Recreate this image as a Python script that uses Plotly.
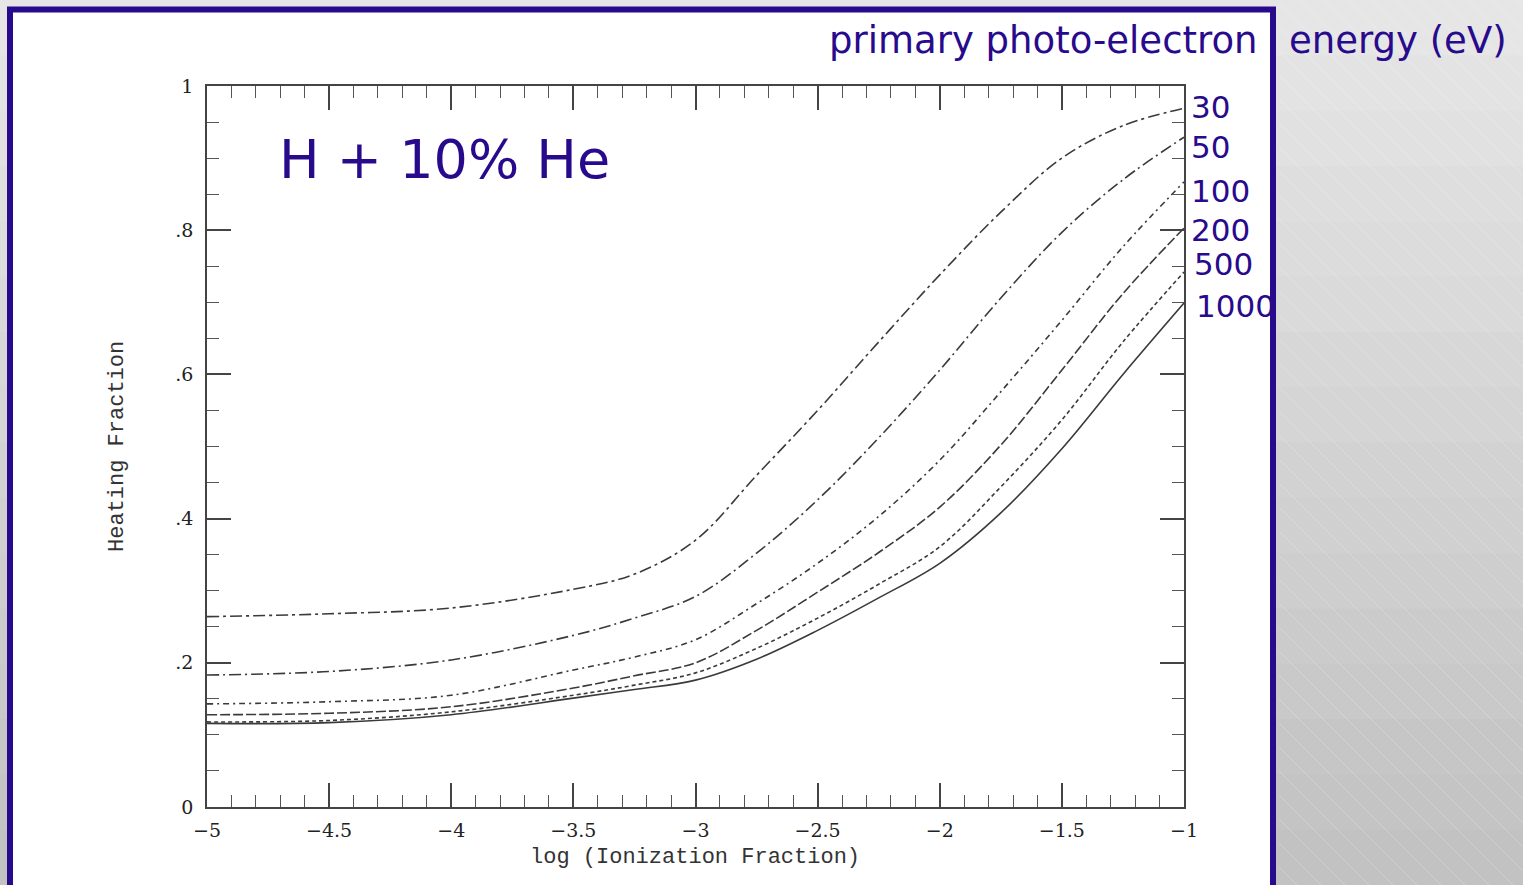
import plotly.graph_objects as go

# ---------------- data ----------------
log_ion = [-5, -4.5, -4, -3.5, -3.25, -3, -2.75, -2.5, -2.25, -2, -1.75, -1.5, -1.25, -1]

heat_30   = [0.264, 0.268, 0.276, 0.302, 0.323, 0.370, 0.460, 0.550, 0.645, 0.738, 0.825, 0.900, 0.945, 0.969]
heat_50   = [0.183, 0.188, 0.204, 0.238, 0.262, 0.292, 0.352, 0.426, 0.512, 0.606, 0.706, 0.797, 0.870, 0.929]
heat_100  = [0.143, 0.146, 0.155, 0.190, 0.208, 0.232, 0.282, 0.338, 0.403, 0.481, 0.576, 0.675, 0.777, 0.867]
heat_200  = [0.128, 0.130, 0.139, 0.165, 0.182, 0.200, 0.245, 0.298, 0.353, 0.416, 0.502, 0.606, 0.712, 0.803]
heat_500  = [0.118, 0.120, 0.132, 0.155, 0.169, 0.186, 0.220, 0.262, 0.309, 0.361, 0.444, 0.537, 0.645, 0.742]
heat_1000 = [0.116, 0.117, 0.128, 0.151, 0.163, 0.176, 0.205, 0.245, 0.290, 0.338, 0.408, 0.497, 0.600, 0.699]

energies = ["30", "50", "100", "200", "500", "1000"]
series = [heat_30, heat_50, heat_100, heat_200, heat_500, heat_1000]
dashes = ["12px,4px,3px,4px", "12px,4px,2px,4px", "6px,4px,2px,4px", "10px,3px", "4px,3px", "solid"]

x_ticks = [-5, -4.5, -4, -3.5, -3, -2.5, -2, -1.5, -1]
x_ticktext = ["\u22125", "\u22124.5", "\u22124", "\u22123.5", "\u22123", "\u22122.5", "\u22122", "\u22121.5", "\u22121"]
y_ticks = [0, 0.2, 0.4, 0.6, 0.8, 1]
y_ticktext = ["0", ".2", ".4", ".6", ".8", "1"]

# ---------------- layout helpers ----------------
W, H = 1523, 885
L, R, T, B = 207, 1184, 86, 807


def px(xp):
    return (xp - L) / (R - L)


def py(yp):
    return (B - yp) / (B - T)


BLUE = "#280a8c"
INK = "#3a3a3a"

fig = go.Figure()
for name, ys, d in zip(energies, series, dashes):
    fig.add_trace(go.Scatter(x=log_ion, y=ys, mode="lines", name=name,
                             line=dict(color=INK, width=1.6, dash=d, shape="spline", smoothing=1.0),
                             showlegend=False))

shapes = []
# background gray bands (gradient approximation)
nb = 16
for i in range(nb):
    g = int(0xe6 - (0xe6 - 0xc2) * i / (nb - 1))
    col = f"#{g:02x}{g:02x}{g:02x}"
    shapes.append(dict(type="rect", xref="paper", yref="paper",
                       x0=px(0), x1=px(W), y0=py(H * i / nb), y1=py(H * (i + 1) / nb + 1),
                       fillcolor=col, line=dict(width=0), layer="below"))
# diagonal subtle lines on the gray right side
for k in range(-40, 30):
    x0p = 1276 + k * 24
    y0p, y1p = 0, H
    x1p = x0p + (y1p - y0p)
    if x1p < 1279:
        continue
    if x0p < 1279:
        y0p = y0p + (1279 - x0p)
        x0p = 1279
    if x1p > W:
        y1p = y1p - (x1p - W)
        x1p = W
    if y1p <= y0p:
        continue
    shapes.append(dict(type="line", xref="paper", yref="paper",
                       x0=px(x0p), y0=py(y0p), x1=px(x1p), y1=py(y1p),
                       line=dict(color="rgba(255,255,255,0.22)", width=1), layer="below"))
# white panel with indigo border
shapes.append(dict(type="rect", xref="paper", yref="paper",
                   x0=px(10), x1=px(1273), y0=py(9.5), y1=py(H + 10),
                   fillcolor="white", line=dict(color=BLUE, width=6), layer="below"))

annotations = [
    dict(text="H + 10% He", x=px(277), y=py(160), xanchor="left", yanchor="middle",
         font=dict(family="DejaVu Sans", size=54, color=BLUE)),
    dict(text="primary photo-electron", x=px(1259), y=py(40), xanchor="right", yanchor="middle",
         font=dict(family="DejaVu Sans", size=37, color=BLUE)),
    dict(text="energy (eV)", x=px(1287), y=py(40), xanchor="left", yanchor="middle",
         font=dict(family="DejaVu Sans", size=37, color=BLUE)),
    dict(text="Heating Fraction", x=px(117), y=py(447), textangle=-90,
         xanchor="center", yanchor="middle",
         font=dict(family="Liberation Mono", size=22, color="#333333")),
    dict(text="log (Ionization Fraction)", x=px(695), y=py(857),
         xanchor="center", yanchor="middle",
         font=dict(family="Liberation Mono", size=22, color="#333333")),
]
label_pos = [(1189, 107), (1189, 147), (1189, 191), (1189, 230), (1192, 264), (1194, 306)]
for name, (lx, ly) in zip(energies, label_pos):
    annotations.append(dict(text=name, x=px(lx), y=py(ly), xanchor="left", yanchor="middle",
                            font=dict(family="DejaVu Sans", size=31, color=BLUE)))
for a in annotations:
    a.update(xref="paper", yref="paper", showarrow=False)

axis_common = dict(showgrid=False, zeroline=False, showline=True, linecolor="#444444",
                   linewidth=1.5, mirror="allticks", ticks="inside", tickcolor="#444444",
                   tickwidth=1.5, ticklen=24,
                   tickfont=dict(family="DejaVu Serif", size=19, color="#222222"))

fig.update_layout(
    width=W, height=H,
    margin=dict(l=L, r=W - R, t=T, b=H - B),
    paper_bgcolor="#d4d4d4",
    plot_bgcolor="rgba(0,0,0,0)",
    shapes=shapes,
    annotations=annotations,
    xaxis=dict(range=[-5, -1], tickvals=x_ticks, ticktext=x_ticktext,
               ticklabelstandoff=5,
               minor=dict(dtick=0.1, tick0=-5, ticks="inside", ticklen=12,
                          tickcolor="#555555", tickwidth=1.2, showgrid=False),
               **axis_common),
    yaxis=dict(range=[0, 1], tickvals=y_ticks, ticktext=y_ticktext,
               ticklabelstandoff=8,
               minor=dict(dtick=0.05, tick0=0, ticks="inside", ticklen=12,
                          tickcolor="#555555", tickwidth=1.2, showgrid=False),
               **axis_common),
)

fig.write_html("out.html")
